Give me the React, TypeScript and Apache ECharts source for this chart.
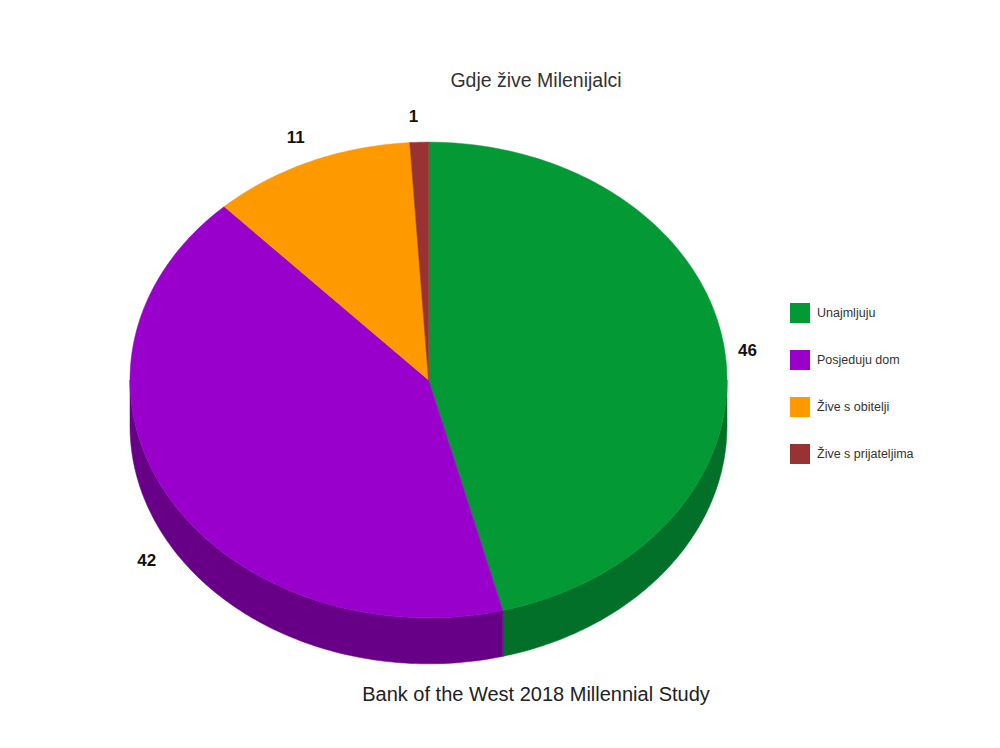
import React, { useEffect, useRef } from "react";
import * as echarts from "echarts";

const categories = ["Unajmljuju", "Posjeduju dom", "Žive s obitelji", "Žive s prijateljima"];
const values = [46, 42, 11, 1];
const topColors = ["#039934", "#9900cc", "#ff9900", "#993333"];
const sideColors = ["#03702a", "#680087", "#b36b00", "#6b2424"];
const titleText = "Gdje žive Milenijalci";
const sourceText = "Bank of the West 2018 Millennial Study";

export default function App() {
  const ref = useRef<HTMLDivElement>(null);
  useEffect(() => {
    document.body.style.margin = "0";
    if (!ref.current) return;
    const chart = echarts.init(ref.current, undefined, { renderer: "svg" });
    const total = values.reduce((a, b) => a + b, 0);
    const starts: number[] = [];
    let acc = 0;
    values.forEach((v) => {
      starts.push(acc);
      acc += v;
    });

    const geo = (api: any) => {
      const w = api.getWidth();
      const h = api.getHeight();
      return { cx: w * 0.4285, cy: h * 0.508, rx: w * 0.2985, ry: h * 0.318, depth: h * 0.0615 };
    };

    const series = categories.map((name, i) => ({
      type: "custom",
      name,
      coordinateSystem: "none",
      itemStyle: { color: topColors[i] },
      data: [[starts[i], values[i]]],
      renderItem: (params: any, api: any) => {
        const g = geo(api);
        const s = api.value(0);
        const v = api.value(1);
        const a0 = (s / total) * 360;
        const a1 = ((s + v) / total) * 360;
        const pt = (deg: number, dy = 0) => {
          const r = (deg * Math.PI) / 180;
          return [g.cx + g.rx * Math.sin(r), g.cy - g.ry * Math.cos(r) + dy];
        };
        const arc = (from: number, to: number, dy = 0) => {
          const pts: number[][] = [];
          const n = Math.max(2, Math.ceil(Math.abs(to - from)));
          for (let k = 0; k <= n; k++) pts.push(pt(from + ((to - from) * k) / n, dy));
          return pts;
        };
        const children: any[] = [];
        const sFrom = Math.max(a0, 90);
        const sTo = Math.min(a1, 270);
        if (sTo > sFrom) {
          const top = arc(sFrom, sTo);
          const bottom = arc(sTo, sFrom, g.depth);
          children.push({
            type: "polygon",
            z2: 1,
            shape: { points: top.concat(bottom) },
            style: { fill: sideColors[i], stroke: sideColors[i], lineWidth: 0.5 },
          });
        }
        children.push({
          type: "polygon",
          z2: 5,
          shape: { points: [[g.cx, g.cy]].concat(arc(a0, a1)) },
          style: { fill: topColors[i], stroke: topColors[i], lineWidth: 0.5 },
        });
        const mid = ((a0 + a1) / 2) * Math.PI / 180;
        const sinm = Math.sin(mid);
        const cosm = Math.cos(mid);
        const lx = g.cx + (g.rx + 23) * sinm + (sinm < 0 && cosm > 0 ? -5 : 0);
        const ly = g.cy - (g.ry + 22) * cosm + (cosm < 0 ? g.depth * 1.2 : sinm > 0.5 ? 3 : -4);
        children.push({
          type: "text",
          z2: 10,
          x: lx,
          y: ly,
          style: {
            text: String(v),
            fill: "#111",
            font: "bold 17px 'Liberation Sans', Arial, sans-serif",
            align: "center",
            verticalAlign: "middle",
          },
        });
        return { type: "group", children };
      },
    }));

    chart.setOption({
      animation: false,
      backgroundColor: "#ffffff",
      title: [
        {
          text: titleText,
          left: 531,
          top: 65,
          textAlign: "center",
          textStyle: { fontSize: 19.5, fontWeight: "normal", color: "#333", fontFamily: "'Liberation Sans', Arial, sans-serif" },
        },
        {
          text: sourceText,
          left: 531,
          top: 679,
          textAlign: "center",
          textStyle: { fontSize: 20, fontWeight: "normal", color: "#222", fontFamily: "'Liberation Sans', Arial, sans-serif" },
        },
      ],
      legend: {
        orient: "vertical",
        left: 790,
        top: 303,
        padding: 0,
        icon: "rect",
        itemWidth: 20,
        itemHeight: 20,
        itemGap: 27,
        data: categories,
        selectedMode: false,
        textStyle: { fontSize: 12.5, color: "#333", fontFamily: "'Liberation Sans', Arial, sans-serif", padding: [0, 0, 0, 2] },
      },
      series,
    });
    return () => chart.dispose();
  }, []);
  return <div ref={ref} style={{ width: 1000, height: 748 }} />;
}
